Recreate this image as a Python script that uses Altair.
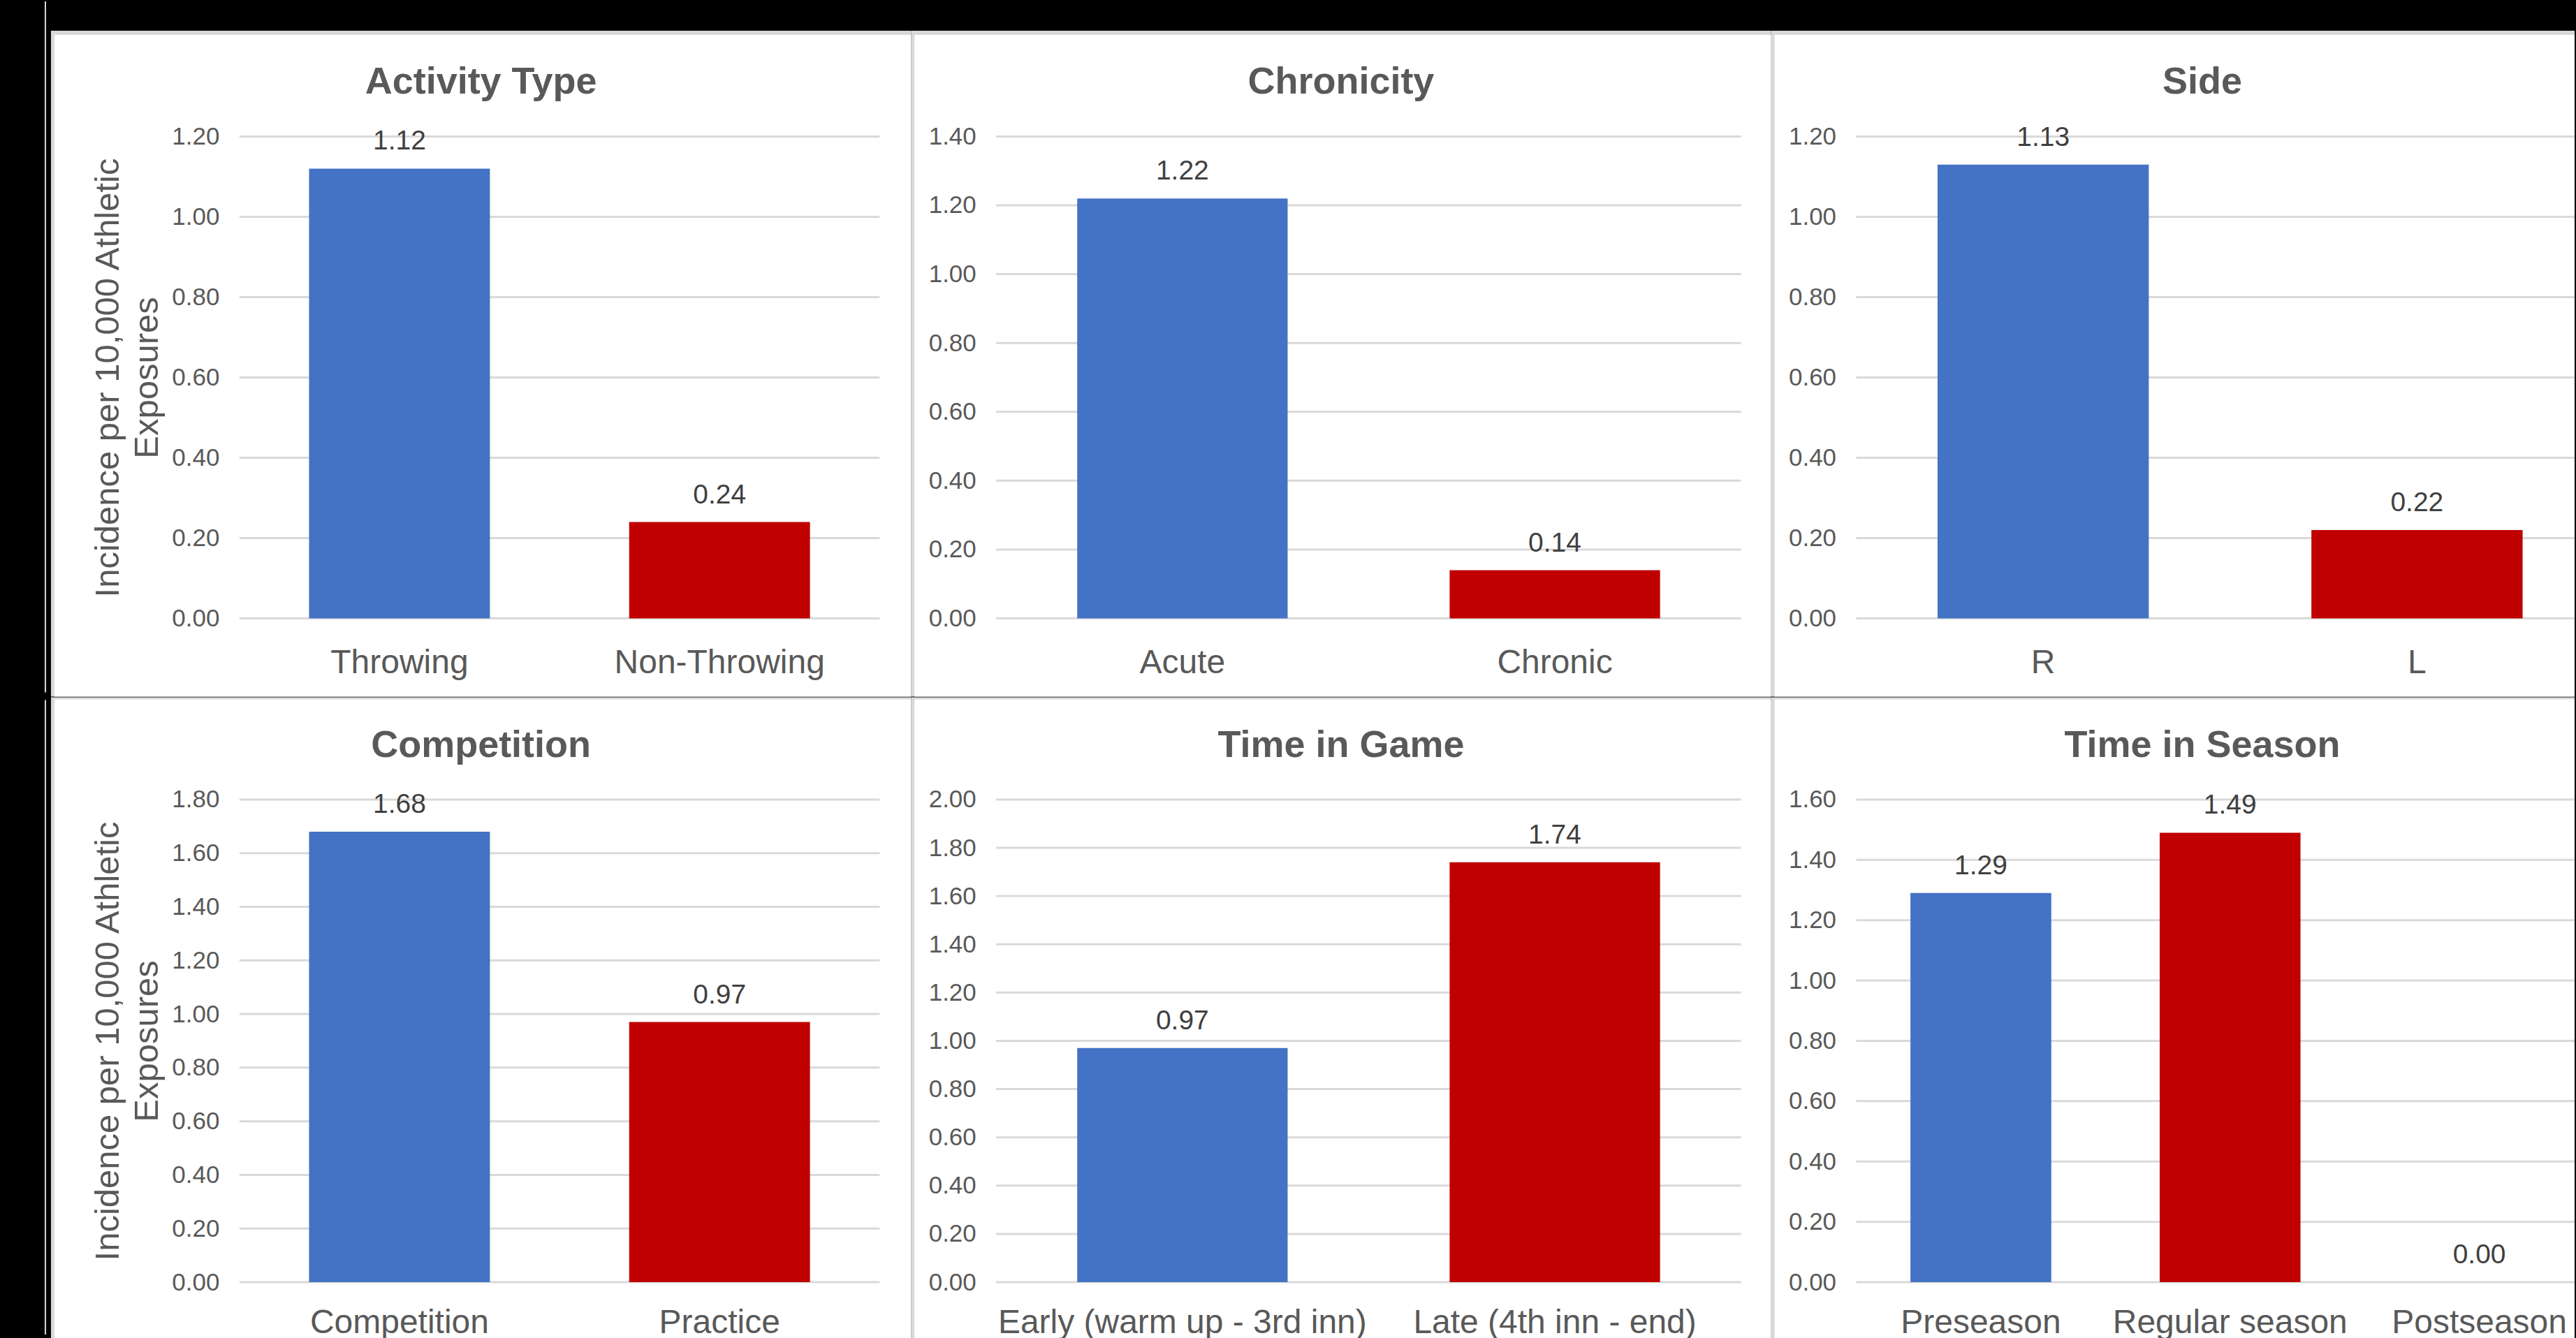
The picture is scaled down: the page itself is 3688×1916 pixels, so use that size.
import altair as alt
import pandas as pd

FONT = "Liberation Sans"
BLUE = "#4472C4"
RED = "#C00000"
GRAY = "#A5A5A5"
TEXT = "#595959"
LABEL = "#404040"
GRID = "#D9D9D9"

# ---- data -------------------------------------------------------------
TITLES = ["Activity Type", "Chronicity", "Side",
          "Competition", "Time in Game", "Time in Season"]

activity_cats = ["Throwing", "Non-Throwing"]
activity_vals = [1.12, 0.24]

chronicity_cats = ["Acute", "Chronic"]
chronicity_vals = [1.22, 0.14]

side_cats = ["R", "L"]
side_vals = [1.13, 0.22]

competition_cats = ["Competition", "Practice"]
competition_vals = [1.68, 0.97]

game_cats = ["Early (warm up - 3rd inn)", "Late (4th inn - end)"]
game_vals = [0.97, 1.74]

season_cats = ["Preseason", "Regular season", "Postseason"]
season_vals = [1.29, 1.49, 0.00]

CATS = [activity_cats, chronicity_cats, side_cats,
        competition_cats, game_cats, season_cats]
VALS = [activity_vals, chronicity_vals, side_vals,
        competition_vals, game_vals, season_vals]
YMAX = [1.2, 1.4, 1.2, 1.8, 2.0, 1.6]
YTITLE = ["Incidence per 10,000 Athletic", "Exposures"]

# ---- layout (pixels) ---------------------------------------------------
COL_GEOM = [  # (border, left margin, plot width, right margin)
    (5, 265, 917, 45),
    (5, 117, 1067, 43),
    (5, 117, 1029, 0),
]
ROW_GEOM = [  # (border, top margin, plot height, bottom margin, label pad)
    (6, 145.5, 690.5, 112, 40),
    (3, 143.5, 691.5, 81, 35),
]
TITLE_FS = 54
PI = 0.435
EDGE_GAP = 8      # thin light line in the black left margin
TOP_BAND = 43     # black band above the panels


def panel(i, row, col):
    cats = CATS[i]
    n = len(cats)
    df = pd.DataFrame({"cat": cats, "val": VALS[i]})
    ymax = YMAX[i]
    ticks = [round(k * 0.2, 2) for k in range(int(round(ymax / 0.2)) + 1)]
    gdf = pd.DataFrame({"val": ticks})

    g, L, W, R = COL_GEOM[col]
    gt, T, H, B, lpad = ROW_GEOM[row]

    yscale = alt.Scale(domain=[0, ymax], nice=False, zero=True)
    yaxis = alt.Axis(
        values=ticks, format=".2f", grid=False, domain=False, ticks=False,
        tickSize=0, labelFont=FONT, labelFontSize=35, labelColor=TEXT,
        labelPadding=29, zindex=1, titleFont=FONT, titleFontSize=49,
        titleFontWeight="normal", titleColor=TEXT, titleLineHeight=56,
        titlePadding=10,
    )
    ytitle = YTITLE if col == 0 else None
    yenc = alt.Y("val:Q", scale=yscale, axis=yaxis, title=ytitle)

    xaxis = alt.Axis(
        labelAngle=0, grid=False, domain=False, ticks=False, tickSize=0,
        labelFont=FONT, labelFontSize=48, labelColor=TEXT, labelPadding=lpad,
        labelLimit=3000, labelOverlap=False, zindex=1,
    )
    title_dx = 0
    if col == 2:
        # right-hand panel is cut by the picture edge: keep the band step of
        # the full-width panel (1071 px) inside the visible plot width
        step = 1071 / n
        po = (W / step - n + PI) / 2
        align = (PI / 2) / (2 * po)
        xscale = alt.Scale(domain=cats, paddingInner=PI, paddingOuter=po,
                           align=align)
        title_dx = (1071 + 41 - L - g) / 2 - (W + R - L - g) / 2
    else:
        xscale = alt.Scale(domain=cats, paddingInner=PI, paddingOuter=PI / 2)
    xenc = alt.X("cat:N", sort=cats, scale=xscale, axis=xaxis, title=None)

    colors = [BLUE, RED, GRAY][:n]

    one = pd.DataFrame({"k": [0]})
    border = alt.Chart(one).mark_rect(fill=GRID).encode(
        x=alt.value(-L - g), x2=alt.value(W + R),
        y=alt.value(-T - gt), y2=alt.value(H + B),
    )
    face = alt.Chart(one).mark_rect(fill="white").encode(
        x=alt.value(-L), x2=alt.value(W + R),
        y=alt.value(-T), y2=alt.value(H + B),
    )
    layers = [border, face]

    top = -(T + gt)
    if col == 0:
        line_top = top - (TOP_BAND - 1) if row == 0 else top + 4
        edge = alt.Chart(one).mark_rule(color=GRID, strokeWidth=2).encode(
            x=alt.value(-L - g - EDGE_GAP),
            y=alt.value(line_top), y2=alt.value(H + B - 6),
        )
        layers.append(edge)
        title_dx = (EDGE_GAP + 1) / 2
        if row == 0:
            top = top - TOP_BAND

    grid = alt.Chart(gdf).mark_rule(color=GRID, strokeWidth=3).encode(
        y=yenc, x=alt.value(0), x2=alt.value(W)
    )

    bars = alt.Chart(df).mark_bar().encode(
        x=xenc, y=yenc,
        color=alt.Color("cat:N", scale=alt.Scale(domain=cats, range=colors),
                        legend=None),
    )

    labels = alt.Chart(df).mark_text(
        font=FONT, fontSize=39, color=LABEL, baseline="alphabetic", dy=-27
    ).encode(
        x=xenc, y=yenc, text=alt.Text("val:Q", format=".2f")
    )

    layers += [grid, bars, labels]
    offset = top - TITLE_FS + 61
    return alt.layer(*layers).properties(
        width=W, height=H,
        title=alt.TitleParams(
            text=TITLES[i], font=FONT, fontSize=TITLE_FS, fontWeight="bold",
            color=TEXT, anchor="middle", frame="bounds",
            baseline="alphabetic", offset=offset, dx=title_dx,
        ),
    )


row1 = alt.hconcat(panel(0, 0, 0), panel(1, 0, 1), panel(2, 0, 2), spacing=0)
row2 = alt.hconcat(panel(3, 1, 0), panel(4, 1, 1), panel(5, 1, 2), spacing=0)

chart = alt.vconcat(row1, row2, spacing=0).properties(
    background="black",
    padding={"left": 73 - EDGE_GAP - 1, "top": 0, "right": 0, "bottom": 0},
).configure_view(strokeWidth=0)

chart.save("out.html", embed_options={"renderer": "svg", "actions": False})
